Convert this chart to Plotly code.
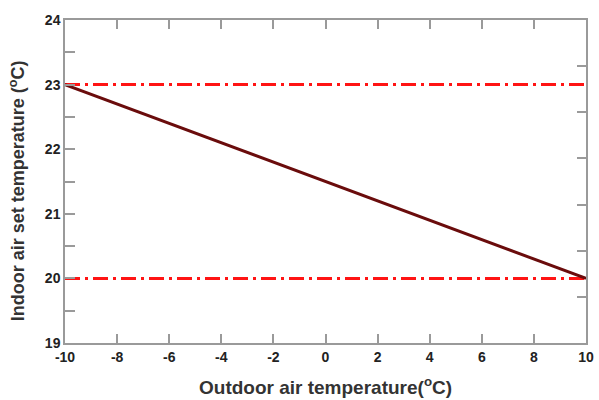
import plotly.graph_objects as go

outdoor_temp = [-10, 10]
indoor_setpoint = [23, 20]
upper_limit = [23, 23]
lower_limit = [20, 20]
x_ticks = [-10, -8, -6, -4, -2, 0, 2, 4, 6, 8, 10]
x_tick_labels = ["-10", "-8", "-6", "-4", "-2", "0", "2", "4", "6", "8", "10"]
y_ticks = [19, 20, 21, 22, 23, 24]
y_tick_labels = ["19", "20", "21", "22", "23", "24"]
x_title = "Outdoor air temperature(<sup>o</sup>C)"
y_title = "Indoor air set temperature (<sup>o</sup>C)"

axis_color = "#9a9a9a"
font_family = "Liberation Sans, Arial, sans-serif"
tick_font = dict(size=14, family=font_family, color="#222222", weight="bold")

fig = go.Figure()
for ys in (upper_limit, lower_limit):
    fig.add_trace(go.Scatter(x=outdoor_temp, y=ys, mode="lines",
                             line=dict(color="#ff1414", width=3, dash="15px,5px,3px,5px"),
                             showlegend=False, cliponaxis=False))
fig.add_trace(go.Scatter(x=outdoor_temp, y=indoor_setpoint, mode="lines",
                         line=dict(color="#6a0c0c", width=3),
                         showlegend=False, cliponaxis=False))
fig.add_trace(go.Scatter(x=[-10], y=[0], yaxis="y2", mode="markers",
                         marker=dict(opacity=0), showlegend=False, hoverinfo="skip"))
fig.add_trace(go.Scatter(x=[-10], y=[19], xaxis="x2", mode="markers",
                         marker=dict(opacity=0), showlegend=False, hoverinfo="skip"))

common = dict(showgrid=False, zeroline=False, automargin=False,
              showline=True, linecolor=axis_color, linewidth=1.5,
              tickcolor=axis_color, tickwidth=1.5, ticks="inside")

fig.update_layout(
    width=599, height=400,
    margin=dict(l=65, r=13, t=20, b=57),
    plot_bgcolor="white", paper_bgcolor="white",
    font=dict(family=font_family, color="#333333"),
    xaxis=dict(range=[-10, 10], tickvals=x_ticks, ticktext=x_tick_labels,
               ticklen=9, tickfont=tick_font, **common),
    xaxis2=dict(range=[-10, 10], overlaying="x", side="top", tickvals=x_ticks,
                ticklen=9, showticklabels=False, **common),
    yaxis=dict(range=[19, 24], tickvals=y_ticks, ticktext=y_tick_labels,
               ticklen=10, tickfont=tick_font,
               minor=dict(dtick=0.5, ticks="inside", ticklen=10,
                          tickcolor=axis_color, tickwidth=1.5, showgrid=False),
               **common),
    yaxis2=dict(range=[0, 7], overlaying="y", side="right", dtick=1,
                ticklen=9, showticklabels=False, **common),
    annotations=[
        dict(text=x_title, xref="paper", yref="paper", x=0.5, y=-0.134,
             xanchor="center", yanchor="middle", showarrow=False,
             font=dict(size=19, color="#333333", weight="bold", family=font_family)),
        dict(text=y_title, xref="paper", yref="paper", x=-0.092, y=0.47,
             xanchor="center", yanchor="middle", showarrow=False, textangle=-90,
             font=dict(size=18, color="#333333", weight="bold", family=font_family)),
    ],
)

fig.write_html("out.html")
